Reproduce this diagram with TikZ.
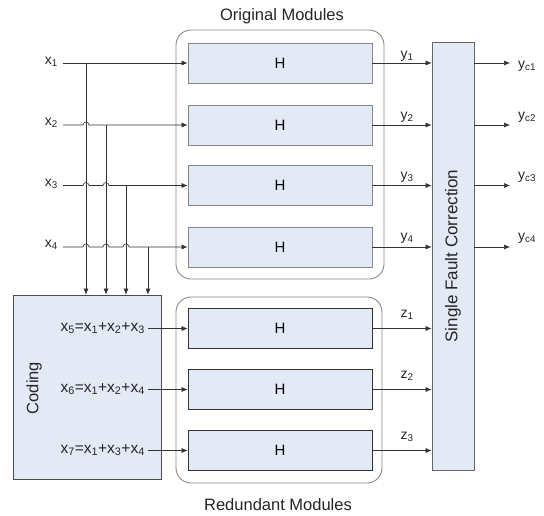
\documentclass[tikz,border=0pt]{standalone}
\usepackage{fontspec}
\setmainfont{Liberation Sans}
\usetikzlibrary{arrows.meta,calc}
\definecolor{boxfill}{RGB}{228,233,246}
\definecolor{edgegray}{RGB}{135,135,135}
\begin{document}
\begin{tikzpicture}[x=1pt,y=-1pt,
  title/.style={font=\fontsize{16.5}{18}\selectfont, inner sep=0pt, text=black!85},
  lbl/.style={font=\fontsize{14}{16}\selectfont, inner sep=0pt, text=black!85},
  eqn/.style={font=\fontsize{15.5}{17}\selectfont, inner sep=0pt, text=black!85},
  hbox/.style={draw=edgegray, fill=boxfill, minimum width=184pt, minimum height=40pt, inner sep=0pt, font=\fontsize{15}{17}\selectfont, line width=0.8pt},
  hboxd/.style={hbox, draw=black!80},
  group/.style={draw=edgegray, rounded corners=15pt, line width=0.9pt, minimum width=208pt, inner sep=0pt},
  bigbox/.style={draw=black!70, fill=boxfill, inner sep=0pt, line width=0.8pt},
  arr/.style={-{Latex[length=6pt,width=5pt]}, line width=0.6pt, draw=black!80},
]
\useasboundingbox (0,0) rectangle (544,515);

% group frames
\node[group, minimum height=249pt] (og) at (280,154.5) {};
\node[group, minimum width=206pt, minimum height=186pt] (rg) at (279,390) {};
\node[title] (ot) at (282,16) {Original Modules};
\node[title] (rt) at (278,505) {Redundant Modules};

% original modules
\node[hbox] (o1) at (280,63) {H};
\node[hbox] (o2) at (280,125) {H};
\node[hbox] (o3) at (280,185.5) {H};
\node[hbox] (o4) at (280,247) {H};

% redundant modules
\node[hboxd] (r1) at (280,328.5) {H};
\node[hboxd] (r2) at (280,389.5) {H};
\node[hboxd] (r3) at (280,450.5) {H};

% coding block
\node[bigbox, minimum width=148pt, minimum height=184pt] (cod) at (87,387) {};
\node[title, rotate=90] (codt) at (34,388) {Coding};
\node[eqn, anchor=east] (e5) at (145,328) {x\textsubscript{5}=x\textsubscript{1}+x\textsubscript{2}+x\textsubscript{3}};
\node[eqn, anchor=east] (e6) at (145,389) {x\textsubscript{6}=x\textsubscript{1}+x\textsubscript{2}+x\textsubscript{4}};
\node[eqn, anchor=east] (e7) at (145,450) {x\textsubscript{7}=x\textsubscript{1}+x\textsubscript{3}+x\textsubscript{4}};

% single fault correction
\node[bigbox, draw=black!60, minimum width=42pt, minimum height=428pt] (sfc) at (453,256) {};
\node[title, rotate=90, font=\fontsize{17}{19}\selectfont] (sfct) at (453,256) {Single Fault Correction};

% input labels
\node[lbl, anchor=east] (x1) at (58,62) {x\textsubscript{1}};
\node[lbl, anchor=east] (x2) at (58,123) {x\textsubscript{2}};
\node[lbl, anchor=east] (x3) at (58,183.5) {x\textsubscript{3}};
\node[lbl, anchor=east] (x4) at (58,245) {x\textsubscript{4}};

% tap points
\coordinate (t1) at (86,63);
\coordinate (t2) at (106,125);
\coordinate (t3) at (126,185.5);
\coordinate (t4) at (148,247);

% horizontal input lines with hops
\draw[arr] (x1.east |- t1) ++(5,0) -- (o1.west);
\draw[arr] (x2.east |- t2) ++(5,0) -- ($(t1|-t2)+(-3,0)$) arc[start angle=180,end angle=0,radius=3pt] -- (o2.west);
\draw[arr] (x3.east |- t3) ++(5,0) -- ($(t1|-t3)+(-3,0)$) arc[start angle=180,end angle=0,radius=3pt]
  -- ($(t2|-t3)+(-3,0)$) arc[start angle=180,end angle=0,radius=3pt] -- (o3.west);
\draw[arr] (x4.east |- t4) ++(5,0) -- ($(t1|-t4)+(-3,0)$) arc[start angle=180,end angle=0,radius=3pt]
  -- ($(t2|-t4)+(-3,0)$) arc[start angle=180,end angle=0,radius=3pt]
  -- ($(t3|-t4)+(-3,0)$) arc[start angle=180,end angle=0,radius=3pt] -- (o4.west);

% vertical taps to coding
\draw[arr] (t1) -- (t1 |- cod.north);
\draw[arr] (t2) -- (t2 |- cod.north);
\draw[arr] (t3) -- (t3 |- cod.north);
\draw[arr] (t4) -- (t4 |- cod.north);

% coded inputs
\draw[arr] (e5.east |- r1.west) ++(3,0) -- (r1.west);
\draw[arr] (e6.east |- r2.west) ++(3,0) -- (r2.west);
\draw[arr] (e7.east |- r3.west) ++(3,0) -- (r3.west);

% module outputs
\draw[arr] (o1.east) -- (sfc.west |- o1.east);
\draw[arr] (o2.east) -- (sfc.west |- o2.east);
\draw[arr] (o3.east) -- (sfc.west |- o3.east);
\draw[arr] (o4.east) -- (sfc.west |- o4.east);
\draw[arr] (r1.east) -- (sfc.west |- r1.east);
\draw[arr] (r2.east) -- (sfc.west |- r2.east);
\draw[arr] (r3.east) -- (sfc.west |- r3.east);

\node[lbl] (y1) at (407,56) {y\textsubscript{1}};
\node[lbl] (y2) at (407,117) {y\textsubscript{2}};
\node[lbl] (y3) at (407,177) {y\textsubscript{3}};
\node[lbl] (y4) at (407,238) {y\textsubscript{4}};
\node[lbl] (z1) at (407,315) {z\textsubscript{1}};
\node[lbl] (z2) at (407,376) {z\textsubscript{2}};
\node[lbl] (z3) at (407,437) {z\textsubscript{3}};

% corrected outputs
\coordinate (c1) at (510,63);
\coordinate (c2) at (510,125);
\coordinate (c3) at (510,185.5);
\coordinate (c4) at (510,247);
\draw[arr] (sfc.east |- c1) -- (c1);
\draw[arr] (sfc.east |- c2) -- (c2);
\draw[arr] (sfc.east |- c3) -- (c3);
\draw[arr] (sfc.east |- c4) -- (c4);
\node[lbl, anchor=west] (yc1) at (518,66) {y\textsubscript{c1}};
\node[lbl, anchor=west] (yc2) at (518,117) {y\textsubscript{c2}};
\node[lbl, anchor=west] (yc3) at (518,177) {y\textsubscript{c3}};
\node[lbl, anchor=west] (yc4) at (518,238) {y\textsubscript{c4}};
\end{tikzpicture}
\end{document}
